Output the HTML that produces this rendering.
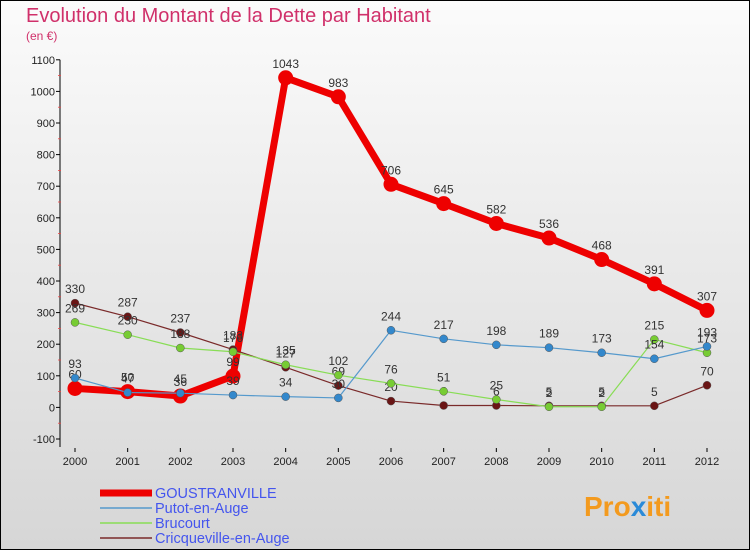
<!DOCTYPE html>
<html><head><meta charset="utf-8"><style>
body{margin:0;width:750px;height:550px;overflow:hidden;font-family:"Liberation Sans",sans-serif}
</style></head><body>
<svg width="750" height="550" xmlns="http://www.w3.org/2000/svg">
<defs><linearGradient id="bg" x1="0" y1="0" x2="0" y2="1"><stop offset="0" stop-color="#fbfbfb"/><stop offset="1" stop-color="#d6d6d6"/></linearGradient></defs>
<rect x="0.5" y="0.5" width="749" height="549" fill="url(#bg)" stroke="#000"/>
<text x="26" y="22" font-size="20" fill="#d0306a">Evolution du Montant de la Dette par Habitant</text>
<text x="26" y="40" font-size="12" fill="#d0306a">(en €)</text>
<g id="axes"></g><g id="series"></g><g id="legend"></g>
<text x="584" y="516" font-size="28" font-weight="bold" fill="#f39a1e">Pro<tspan fill="#2a8ad8">x</tspan>iti</text>
</svg>
<script>
const years=[2000,2001,2002,2003,2004,2005,2006,2007,2008,2009,2010,2011,2012];
const yTicks=[-100,0,100,200,300,400,500,600,700,800,900,1000,1100];
const names=["GOUSTRANVILLE","Putot-en-Auge","Brucourt","Cricqueville-en-Auge"];
const gous=[60,50,36,99,1043,983,706,645,582,536,468,391,307];
const putot=[93,47,45,39,34,30,244,217,198,189,173,154,193];
const bruc=[269,230,188,176,135,102,76,51,25,2,2,215,173];
const cricq=[330,287,237,183,127,69,20,6,6,5,5,5,70];
const NS="http://www.w3.org/2000/svg";
const X=i=>75+i*(632/12);
const Y=v=>407.4-v*0.316;
function mk(p,t,a){const e=document.createElementNS(NS,t);for(const k in a)e.setAttribute(k,a[k]);p.appendChild(e);return e;}
const ax=document.getElementById('axes');
let l=mk(ax,'line',{x1:60,y1:Y(1100),x2:60,y2:Y(-100)+8,stroke:'#000'});


yTicks.forEach(v=>{
 mk(ax,'line',{x1:56,y1:Y(v),x2:60,y2:Y(v),stroke:'#000'});
 if(v<1100) mk(ax,'line',{x1:58,y1:Y(v+50),x2:61,y2:Y(v+50),stroke:'#e44','stroke-width':0.8});
 const t=mk(ax,'text',{x:55,y:Y(v)+4,'font-size':11,'text-anchor':'end',fill:'#222'});t.textContent=v;
 
 
});
years.forEach((y,i)=>{
 mk(ax,'line',{x1:X(i),y1:448,x2:X(i),y2:452,stroke:'#000'});
 const t=mk(ax,'text',{x:X(i),y:465,'font-size':11,'text-anchor':'middle',fill:'#222'});t.textContent=y;
 
 
});
const sg=document.getElementById('series');
const defs=[[gous,'#ee0000','#ee0000',7,7,'goustranville-line'],[cricq,'#7a2a2a','#6a1515',1.2,4,'cricqueville-line'],[bruc,'#88dd55','#77cc33',1.2,4,'brucourt-line'],[putot,'#5599cc','#3388cc',1.2,4,'putot-line']];
defs.forEach(([d,c,f,w,r,n])=>{
 const g=mk(sg,'g',{});
 
 
 mk(g,'polyline',{points:d.map((v,i)=>X(i)+','+Y(v)).join(' '),fill:'none',stroke:c,'stroke-width':w,'stroke-linejoin':'round'});
 d.forEach((v,i)=>{
  const pt=mk(g,'circle',{cx:X(i),cy:Y(v),r:r,fill:f,stroke:w>3?'#ee0000':'#555','stroke-width':w>3?1:0.5});
  
  
  const t=mk(g,'text',{x:X(i),y:Y(v)-10,'font-size':12,'text-anchor':'middle',fill:'#333'});t.textContent=v;
  
  
 });
});
const lg=document.getElementById('legend');
[['#ee0000',7],['#5599cc',1.5],['#88dd55',1.5],['#7a2a2a',1.5]].forEach(([c,w],i)=>{
 const y=493+i*15;
 const e=mk(lg,'line',{x1:100,y1:y,x2:152,y2:y,stroke:c,'stroke-width':w});
 
 
 const t=mk(lg,'text',{x:155,y:y+5,'font-size':14.5,fill:'#4455ee'});t.textContent=names[i];
 
 
});
</script>
</body></html>
